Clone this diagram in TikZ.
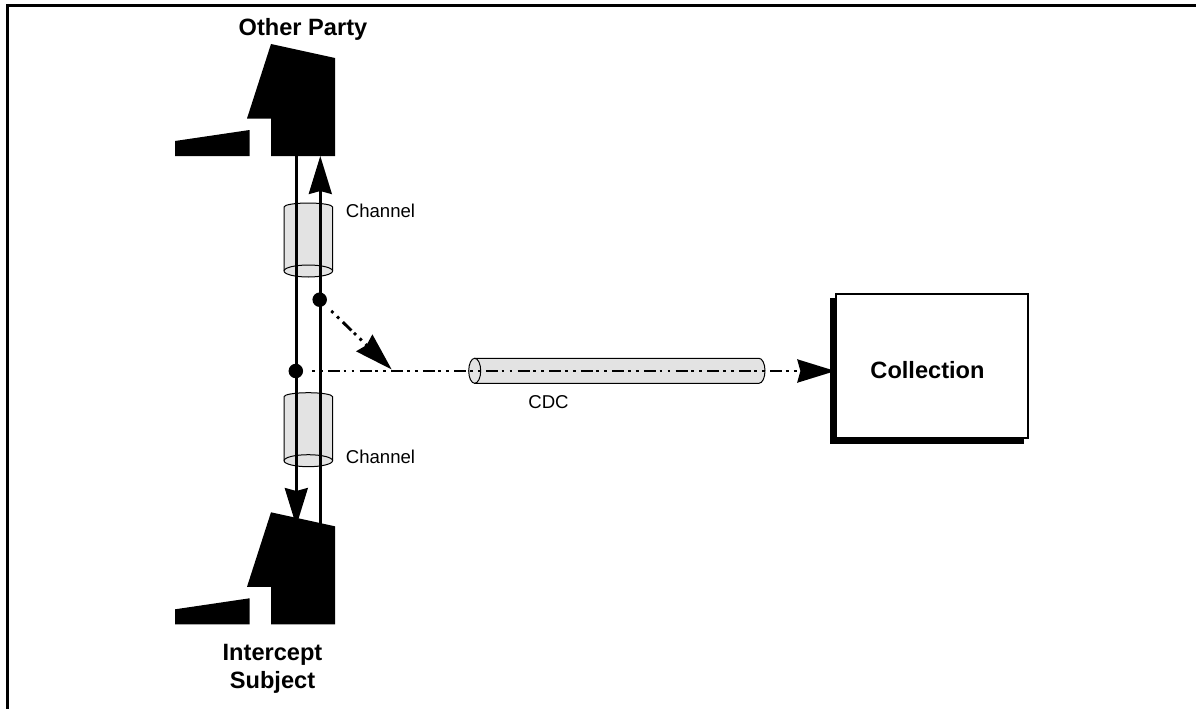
\documentclass[tikz,border=0pt]{standalone}
\usepackage{fontspec}
\setmainfont{Liberation Sans}
\usetikzlibrary{arrows.meta}
\tikzset{
  x=1pt,y=-1pt,
  wire/.style={line width=2.5pt,draw=black},
  bighead/.style={-{Stealth[length=38pt,width=23pt,inset=3pt,fill=black]}},
  ddash/.style={line width=2.9pt,dash pattern=on 2.8pt off 5.2pt on 2.8pt off 5.2pt on 12pt off 3.6pt,dash phase=29.9pt},
  tube/.style={line width=1pt,draw=black,fill=black!11},
  dot/.style={circle,fill=black,inner sep=0pt,minimum size=14.5pt},
  bigtext/.style={font=\bfseries\fontsize{23.6}{28.5}\selectfont,align=center},
  smalltext/.style={font=\fontsize{18.6}{22}\selectfont},
}
\newcommand{\phonebody}[2]{%
  \fill[shift={(#1,#2)}] (271,44)--(335,58)--(335,156)--(271,156)--(271,118.5)--(247,118.5)--cycle;
  \fill[shift={(#1,#2)}] (175,141)--(249.5,130)--(249.5,156)--(175,156)--cycle;}
\newcommand{\chancyl}[2]{%
  \path[tube] (284,#1+4) arc[start angle=180,end angle=0,x radius=24.3,y radius=-4] -- (332.6,#2)
     arc[start angle=0,end angle=-180,x radius=24.3,y radius=-6] -- cycle;
  \draw[line width=1pt] (284,#2) arc[start angle=180,end angle=0,x radius=24.3,y radius=-6];}
\begin{document}
\begin{tikzpicture}
\useasboundingbox (0,0) rectangle (1196,709);
\draw[line width=3pt] (7,709) -- (7,5.5) -- (1196,5.5);
% phones
\phonebody{0}{0}
\phonebody{0}{468.3}
% channel cylinders
\chancyl{203}{271}
\chancyl{392.7}{460.7}
% CDC cylinder
\path[tube] (474.7,358.3) -- (759,358.3) arc[start angle=-90,end angle=90,x radius=6,y radius=12.5]
   -- (474.7,383.3) -- cycle;
\draw[tube] (474.7,370.8) ellipse[x radius=6,y radius=12.5];
% named anchors
\node[dot] (upper) at (319.7,299.7) {};
\node[dot] (lower) at (295.8,371) {};
\coordinate (opA) at (296.3,156);
\coordinate (isA) at (296.3,526);
\coordinate (opB) at (320.3,156);
\coordinate (isB) at (320.3,528);
\coordinate (merge) at (391.7,369.5);
% box
\fill[black] (829.7,298) rectangle (1024,444);
\node[draw=black,fill=white,line width=2pt,minimum width=192pt,minimum height=144pt,inner sep=0pt] (coll) at (932.4,365.7) {};
\node[bigtext] (colltext) at (927.5,370) {Collection};
% wires
\draw[wire,bighead] (opA) -- (isA);
\draw[wire,bighead] (isB) -- (opB);
\draw[ddash,bighead,shorten <=7pt] (upper) -- (merge);
\draw[ddash,bighead,shorten <=7pt] (lower) -- (coll.west |- lower);
% labels
\node[bigtext] (op) at (303,29.5) {Other Party};
\node[bigtext] (is) at (272.5,669) {Intercept\\Subject};
\node[smalltext] (c1) at (380.5,211) {Channel};
\node[smalltext] (c2) at (380.5,456.5) {Channel};
\node[smalltext] (cdc) at (548.5,402.5) {CDC};
\end{tikzpicture}
\end{document}
